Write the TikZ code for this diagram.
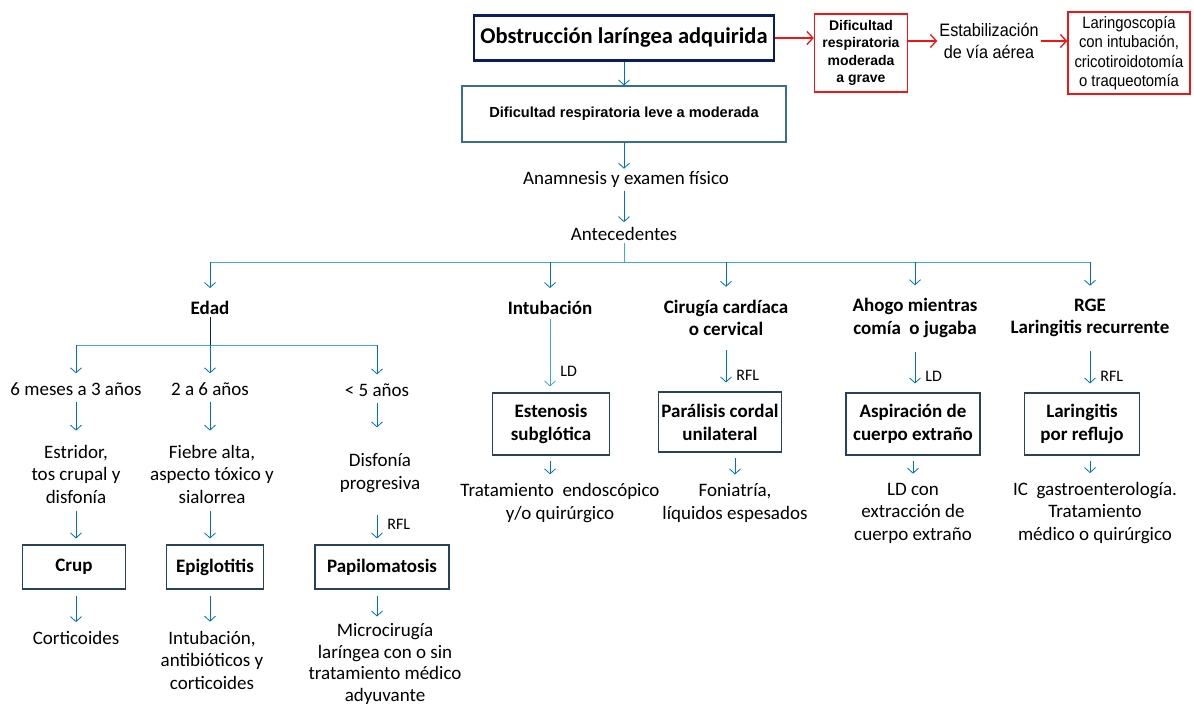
\documentclass[tikz,border=0pt]{standalone}
\usepackage{fontspec}
\setmainfont{Carlito}
\newfontfamily\arialfont{Liberation Sans}
\newfontfamily\narrowfont[FakeStretch=0.9]{Liberation Sans}
\usetikzlibrary{arrows.meta}

\definecolor{azul}{RGB}{0,112,192}
\definecolor{azulclaro}{RGB}{60,170,225}
\definecolor{marino}{RGB}{10,30,95}
\definecolor{borde}{RGB}{40,66,92}
\definecolor{bordeleve}{RGB}{55,110,145}
\definecolor{rojo}{RGB}{240,20,20}

\tikzset{
    texto/.style={align=center, inner sep=2pt, font=\fontsize{19}{22.5}\selectfont},
    negrita/.style={texto, font=\fontsize{19}{22.5}\selectfont\bfseries},
    etiqueta/.style={font=\fontsize{16}{18}\selectfont, inner sep=2pt, xshift=8pt},
    caja/.style={draw=borde, line width=1.1pt, align=center, minimum height=44pt,
        font=\fontsize{19}{23}\selectfont\bfseries},
    cajaroja/.style={draw=rojo, line width=1.4pt, align=center, fill=white},
    flecha/.style={draw=azul, line width=0.8pt, -{Straight Barb[length=5pt,width=11pt]}},
    linea/.style={draw=azulclaro, line width=0.9pt},
    flecharoja/.style={draw=rojo, line width=1.3pt, -{Straight Barb[length=6pt,width=13pt]}}
}

\begin{document}
\begin{tikzpicture}[x=1pt, y=-1pt]
    \useasboundingbox (0,0) rectangle (1194,709);

    % parte superior
    \node[draw=marino, line width=2.6pt, minimum width=300pt, minimum height=45pt,
        font=\fontsize{22.5}{26}\selectfont\bfseries] (obst) at (624,38) {Obstrucción laríngea adquirida};
    \node[cajaroja, minimum width=93pt, minimum height=78pt,
        font=\arialfont\fontsize{14}{17.5}\selectfont\bfseries] (grave) at (861,53) {Dificultad\\respiratoria\\moderada\\a grave};
    \node[align=center, inner sep=2pt, font=\narrowfont\fontsize{18}{22}\selectfont] (estab) at (989,41) {Estabilización\\de vía aérea};
    \node[cajaroja, minimum width=122pt, minimum height=82pt,
        font=\narrowfont\fontsize{16.5}{19.5}\selectfont] (laring) at (1129,53) {Laringoscopía\\con intubación,\\cricotiroidotomía\\o traqueotomía};
    \draw[flecharoja] (obst.east) -- (obst.east -| grave.west);
    \draw[flecharoja] (estab.west -| grave.east) -- (estab.west);
    \draw[flecharoja] (estab.east) -- (estab.east -| laring.west);

    \node[draw=bordeleve, line width=1.1pt, minimum width=324pt, minimum height=56pt,
        font=\arialfont\fontsize{14.6}{17}\selectfont\bfseries] (leve) at (624,114) {Dificultad respiratoria leve a moderada};
    \node[texto] (anam) at (626,179) {Anamnesis y examen físico};
    \node[texto] (ante) at (624,234) {Antecedentes};
    \coordinate (bus) at (624,262);
    \draw[flecha] (obst) -- (leve);
    \draw[flecha] (leve) -- (leve |- anam.north);
    \draw[flecha, shorten <=2pt, shorten >=3pt] (anam.south -| ante) -- (ante);

    % antecedentes
    \node[negrita] (edad) at (210,308) {Edad};
    \node[negrita] (intub) at (550,308) {Intubación};
    \node[negrita] (cirug) at (726,318) {Cirugía cardíaca\\o cervical};
    \node[negrita] (ahogo) at (915,318) {Ahogo mientras\\comía\ \ o jugaba};
    \node[negrita] (rge) at (1090,318) {RGE\\Laringitis recurrente};
    \draw[linea] (ante) -- (bus);
    \draw[linea] (edad |- bus) -- (rge |- bus);
    \foreach \n in {edad,intub,cirug,ahogo,rge}
        \draw[flecha, shorten >=11pt] (\n |- bus) -- (\n);

    % edad
    \coordinate (bus2) at (210,345);
    \node[texto] (meses) at (76,389) {6 meses a 3 años};
    \node[texto] (anos) at (210,389) {2 a 6 años};
    \node[texto] (menor) at (377,390) {< 5 años};
    \draw[draw=marino, line width=1pt] (edad) -- (bus2);
    \draw[linea] (meses |- bus2) -- (menor |- bus2);
    \foreach \n in {meses,anos,menor}
        \draw[flecha, shorten >=7pt] (\n |- bus2) -- (\n);

    \node[texto] (estridor) at (76,474) {Estridor,\\tos crupal y\\disfonía};
    \node[texto] (fiebre) at (212,474) {Fiebre alta,\\aspecto tóxico y\\sialorrea};
    \node[texto] (disf) at (380,473) {Disfonía\\progresiva};
    \draw[flecha, shorten <=4pt, shorten >=12pt] (meses) -- (meses |- estridor.north);
    \draw[flecha, shorten <=4pt, shorten >=12pt] (anos) -- (anos |- fiebre.north);
    \draw[flecha, shorten <=4pt, shorten >=24pt] (menor) -- (menor |- disf.north);

    \node[caja, minimum width=103pt] (crup) at (74,567) {Crup};
    \node[caja, minimum width=97pt] (epig) at (215,567) {Epiglotitis};
    \node[caja, minimum width=134pt] (papi) at (382,567) {Papilomatosis};
    \draw[flecha, shorten <=6pt, shorten >=6pt] (estridor.south -| meses) -- (meses |- crup.north);
    \draw[flecha, shorten <=6pt, shorten >=6pt] (fiebre.south -| anos) -- (anos |- epig.north);
    \draw[flecha, shorten <=20pt, shorten >=6pt] (disf.south -| menor) -- (menor |- papi.north)
        node[etiqueta, right, pos=0.6] {RFL};

    \node[texto] (cort) at (76,638) {Corticoides};
    \node[texto] (intab) at (212,660) {Intubación,\\antibióticos y\\corticoides};
    \node[texto, font=\fontsize{19}{21.5}\selectfont] (micro) at (385,664) {Microcirugía\\laríngea con o sin\\tratamiento médico\\adyuvante};
    \draw[flecha, shorten <=6pt, shorten >=7pt] (crup.south -| meses) -- (meses |- cort.north);
    \draw[flecha, shorten <=6pt, shorten >=7pt] (epig.south -| anos) -- (anos |- intab.north);
    \draw[flecha, shorten <=6pt, shorten >=5pt] (papi.south -| menor) -- (menor |- micro.north);

    % otros antecedentes
    \node[caja, minimum width=117pt, minimum height=62pt] (esten) at (551,424) {Estenosis\\subglótica};
    \node[caja, minimum width=111pt, minimum height=60pt] (paral) at (720,422) {Parálisis cordal\\unilateral};
    \node[caja, minimum width=134pt, minimum height=62pt] (aspir) at (913,424) {Aspiración de\\cuerpo extraño};
    \node[caja, minimum width=115pt, minimum height=62pt] (reflu) at (1082,424) {Laringitis\\por reflujo};
    \draw[flecha, draw=azulclaro, shorten <=2pt, shorten >=6pt] (intub) -- (intub |- esten.north)
        node[etiqueta, right, pos=0.72] {LD};
    \draw[flecha, shorten <=12pt, shorten >=9pt] (cirug) -- (cirug |- paral.north)
        node[etiqueta, right, pos=0.7] {RFL};
    \draw[flecha, shorten <=12pt, shorten >=9pt] (ahogo) -- (ahogo |- aspir.north)
        node[etiqueta, right, pos=0.7] {LD};
    \draw[flecha, shorten <=12pt, shorten >=9pt] (rge) -- (rge |- reflu.north)
        node[etiqueta, right, pos=0.7] {RFL};

    \node[texto] (tratest) at (560,503) {Tratamiento\ \ endoscópico\\y/o quirúrgico};
    \node[texto] (fonia) at (735,503) {Foniatría,\\líquidos espesados};
    \node[texto] (extrac) at (913,513) {LD con\\extracción de\\cuerpo extraño};
    \node[texto] (gastro) at (1095,513) {IC\ \ gastroenterología.\\Tratamiento\\médico o quirúrgico};
    \draw[flecha, shorten <=5pt, shorten >=7pt] (intub |- esten.south) -- (intub |- tratest.north);
    \draw[flecha, shorten <=5pt, shorten >=7pt] (fonia |- paral.south) -- (fonia);
    \draw[flecha, shorten <=5pt, shorten >=7pt] (aspir) -- (extrac);
    \draw[flecha, shorten <=5pt, shorten >=7pt] (reflu.south -| rge) -- (rge |- gastro.north);
\end{tikzpicture}
\end{document}
